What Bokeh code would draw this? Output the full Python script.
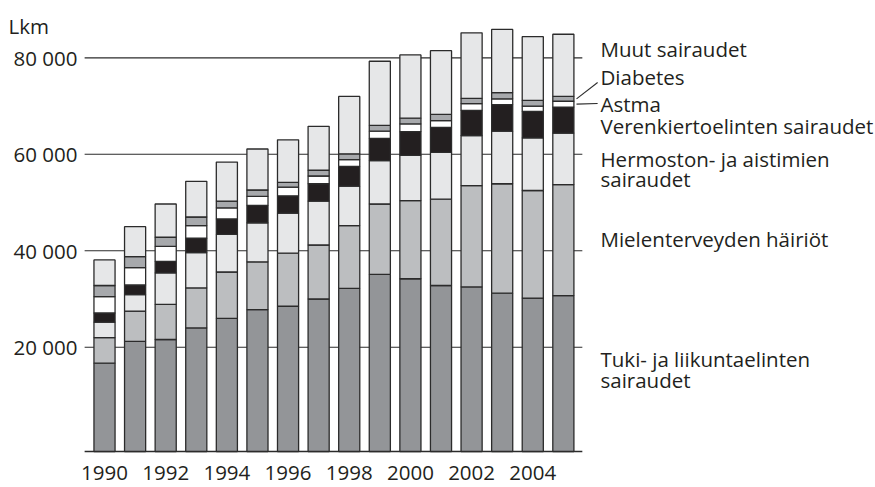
from bokeh.plotting import figure
from bokeh.models import Label, Range1d
from bokeh.embed import file_html
from bokeh.resources import INLINE

# ---------------- data ----------------
years = list(range(1990, 2006))
tuki = [16700, 21200, 21600, 24000, 26000, 27800, 28500, 30000, 32200, 35100, 34200, 32800, 32500, 31200, 30200, 30700]
miel = [5300, 6300, 7300, 8300, 9600, 9900, 11000, 11200, 13000, 14600, 16200, 17900, 21000, 22700, 22300, 23000]
hermo = [3200, 3400, 6500, 7300, 7800, 8100, 8300, 9100, 8200, 9000, 9400, 9700, 10400, 10900, 10900, 10700]
veren = [1900, 2000, 2400, 3000, 3200, 3600, 3600, 3600, 4100, 4600, 4900, 5200, 5200, 5500, 5500, 5400]
astma = [3400, 3600, 3100, 2600, 2300, 1900, 1800, 1600, 1400, 1500, 1600, 1400, 1400, 1200, 1100, 1200]
diabetes = [2300, 2300, 1900, 1800, 1400, 1300, 1000, 1200, 1200, 1200, 1200, 1300, 1100, 1300, 1200, 1000]
muut = [5300, 6200, 6900, 7400, 8100, 8500, 8800, 9100, 11900, 13300, 13100, 13200, 13600, 13100, 13200, 12900]

series = [tuki, miel, hermo, veren, astma, diabetes, muut]
colors = ["#939598", "#bcbec0", "#e6e7e8", "#231f20", "#ffffff", "#a7a9ac", "#e6e7e8"]

y_ticks = [20000, 40000, 60000, 80000]
y_tick_labels = ["20 000", "40 000", "60 000", "80 000"]
year_labels = [1990, 1992, 1994, 1996, 1998, 2000, 2002, 2004]
unit_label = "Lkm"

# right-hand labels: (text, screen y of text centre, measured from bottom)
right_labels = [
    ("Muut sairaudet", 438.5),
    ("Diabetes", 410.5),
    ("Astma", 383.5),
    ("Verenkiertoelinten sairaudet", 362),
    ("Hermoston- ja aistimien", 328.5),
    ("sairaudet", 308.5),
    ("Mielenterveyden häiriöt", 248.5),
    ("Tuki- ja liikuntaelinten", 128.5),
    ("sairaudet", 107.5),
]

# ---------------- figure ----------------
W, H = 875, 487
Y_START, Y_END = -9082, 91893
BASE = -1617
FONT = "Open Sans"
FS = "20.5px"
TXT = "#231f20"
EDGE = "#2b2b2b"

p = figure(width=W, height=H, output_backend="svg", toolbar_location=None,
           x_range=Range1d(1986.600, 2015.204), y_range=Range1d(Y_START, Y_END),
           min_border=0)
p.axis.visible = False
p.grid.visible = False
p.outline_line_color = None
p.background_fill_color = "white"
p.border_fill_color = "white"

# gridlines and baseline
gx0 = years[0] - 0.65
gx1 = years[-1] + 0.62
p.segment(x0=[gx0] * len(y_ticks), x1=[gx1] * len(y_ticks), y0=y_ticks, y1=y_ticks,
          line_color=EDGE, line_width=1.1)
p.segment(x0=[gx0], x1=[gx1], y0=[BASE], y1=[BASE], line_color=EDGE, line_width=1.4)

# stacked bars
bottom = [BASE] * len(years)
cum = [0] * len(years)
tops_by_series = []
bottoms_by_series = []
for vals, col in zip(series, colors):
    top = [c + v for c, v in zip(cum, vals)]
    p.vbar(x=years, width=0.69, bottom=bottom, top=top, fill_color=col,
           line_color=EDGE, line_width=1.3)
    bottoms_by_series.append(bottom)
    tops_by_series.append(top)
    cum = top
    bottom = top

# leader lines for Diabetes and Astma
last = len(years) - 1
lx0 = years[-1] + 0.43
lx1 = years[-1] + 1.12
diab_mid = (bottoms_by_series[5][last] + tops_by_series[5][last]) / 2
astma_mid = (bottoms_by_series[4][last] + tops_by_series[4][last]) / 2
p.segment(x0=[lx0, lx0], x1=[lx1, lx1], y0=[diab_mid, astma_mid], y1=[74900, astma_mid + 150],
          line_color=EDGE, line_width=1.1)

# y tick labels
for t, lab in zip(y_ticks, y_tick_labels):
    p.add_layout(Label(x=77, x_units="screen", y=t, y_units="data", text=lab,
                       text_align="right", text_baseline="middle",
                       text_font=FONT, text_font_size=FS, text_color=TXT))

p.add_layout(Label(x=8, x_units="screen", y=462, y_units="screen", text=unit_label,
                   text_align="left", text_baseline="middle",
                   text_font=FONT, text_font_size=FS, text_color=TXT))

# year labels
for yr in year_labels:
    p.add_layout(Label(x=yr, x_units="data", y=15, y_units="screen", text=str(yr),
                       text_align="center", text_baseline="middle",
                       text_font=FONT, text_font_size=FS, text_color=TXT))

# right labels
for txt, sy in right_labels:
    p.add_layout(Label(x=600, x_units="screen", y=sy, y_units="screen", text=txt,
                       text_align="left", text_baseline="middle",
                       text_font=FONT, text_font_size=FS, text_color=TXT))

open("out.html", "w").write(file_html(p, INLINE))
